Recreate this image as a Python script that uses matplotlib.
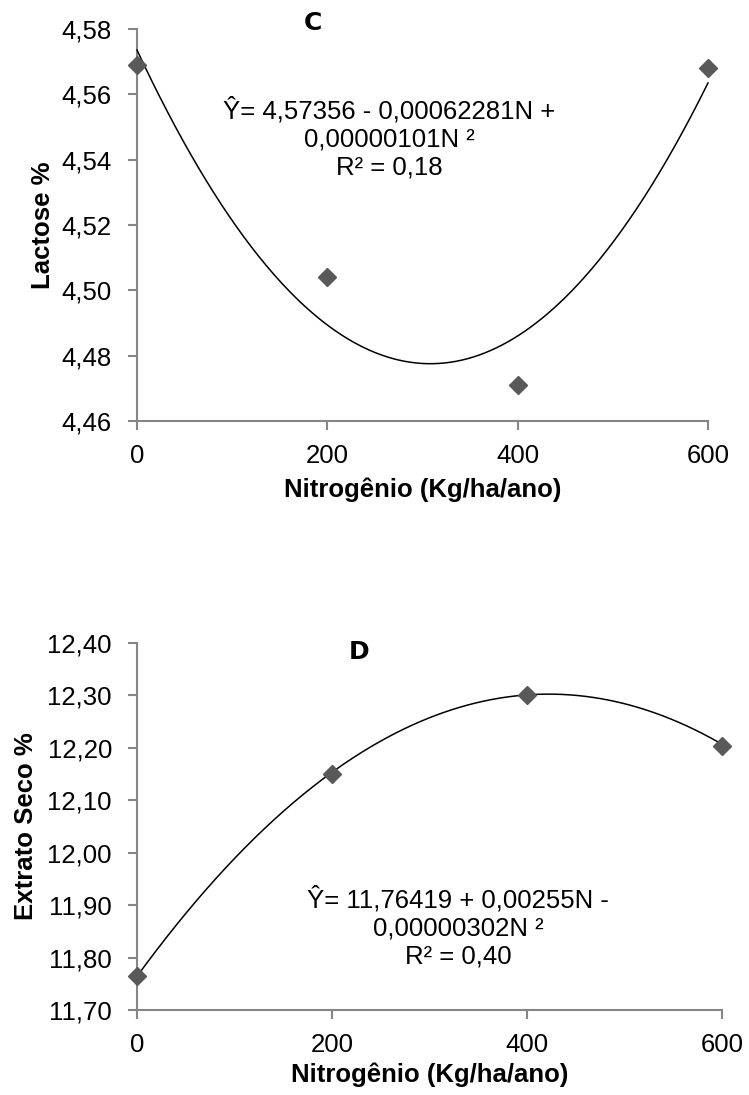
import numpy as np
import matplotlib
matplotlib.use("Agg")
import matplotlib.pyplot as plt

plt.rcParams['font.family'] = ['Liberation Sans', 'DejaVu Sans']

# doses de nitrogênio (kg/ha/ano)
nitrogenio = [0, 200, 400, 600]

# C - lactose
lactose = [4.569, 4.504, 4.471, 4.568]
coef_lactose = [4.57356, -0.00062281, 0.00000101]
eq_lactose = "Ŷ= 4,57356 - 0,00062281N +\n0,00000101N ²\nR² = 0,18"
yticks_lactose = [4.46, 4.48, 4.50, 4.52, 4.54, 4.56, 4.58]

# D - extrato seco
extrato = [11.765, 12.150, 12.301, 12.203]
coef_extrato = [11.76419, 0.00255, -0.00000302]
eq_extrato = "Ŷ= 11,76419 + 0,00255N -\n0,00000302N ²\nR² = 0,40"
yticks_extrato = [11.70, 11.80, 11.90, 12.00, 12.10, 12.20, 12.30, 12.40]

xticks = [0, 200, 400, 600]

GRAY = '#868686'
MARK = '#595959'
FS = 18.5

fig = plt.figure(figsize=(7.49, 10.95), dpi=100)
ax1 = fig.add_axes([0.1829, 0.6155, 0.7623, 0.358])
ax2 = fig.add_axes([0.1829, 0.0776, 0.781, 0.3352])


def painel(ax, y, coef, ticks, ylabel, eq, eq_xy, letra, letra_xy,
           xpad, ylabelpad, xlabelpad):
    n = np.linspace(0, 600, 300)
    curva = coef[0] + coef[1] * n + coef[2] * n ** 2
    ax.plot(n, curva, color='black', lw=1.1, clip_on=False, zorder=3)
    ax.plot(nitrogenio, y, ls='none', marker='D', ms=9.5, color=MARK,
            mec=MARK, clip_on=False, zorder=4)
    ax.set_xlim(0, 600)
    ax.set_ylim(ticks[0], ticks[-1])
    ax.set_xticks(xticks)
    ax.set_yticks(ticks)
    ax.set_yticklabels([f"{t:.2f}".replace('.', ',') for t in ticks])
    for s in ['top', 'right']:
        ax.spines[s].set_visible(False)
    for s in ['left', 'bottom']:
        ax.spines[s].set_color(GRAY)
        ax.spines[s].set_linewidth(1.5)
    ax.tick_params(axis='both', direction='out', length=6.5, width=1.5,
                   color=GRAY, labelsize=FS)
    ax.tick_params(axis='y', pad=11.5)
    ax.tick_params(axis='x', pad=xpad)
    ax.set_xlabel("Nitrogênio (Kg/ha/ano)", fontsize=FS, fontweight='bold',
                  labelpad=xlabelpad)
    ax.set_ylabel(ylabel, fontsize=FS, fontweight='bold', labelpad=ylabelpad)
    ax.text(eq_xy[0], eq_xy[1], eq, transform=fig.transFigure, ha='center',
            va='center', fontsize=FS, linespacing=1.2)
    ax.text(letra_xy[0], letra_xy[1], letra, transform=fig.transFigure,
            ha='center', va='center', fontsize=18, fontweight='bold',
            family=['DejaVu Sans'])


painel(ax1, lactose, coef_lactose, yticks_lactose, "Lactose %", eq_lactose,
       (389 / 749, 1 - 138 / 1095), "C", (313 / 749, 1 - 23 / 1095),
       xpad=10, ylabelpad=5, xlabelpad=7)
painel(ax2, extrato, coef_extrato, yticks_extrato, "Extrato Seco %", eq_extrato,
       (458 / 749, 1 - 927 / 1095), "D", (359 / 749, 1 - 652 / 1095),
       xpad=10, ylabelpad=6.5, xlabelpad=4)

fig.savefig("out.png", dpi=100)
